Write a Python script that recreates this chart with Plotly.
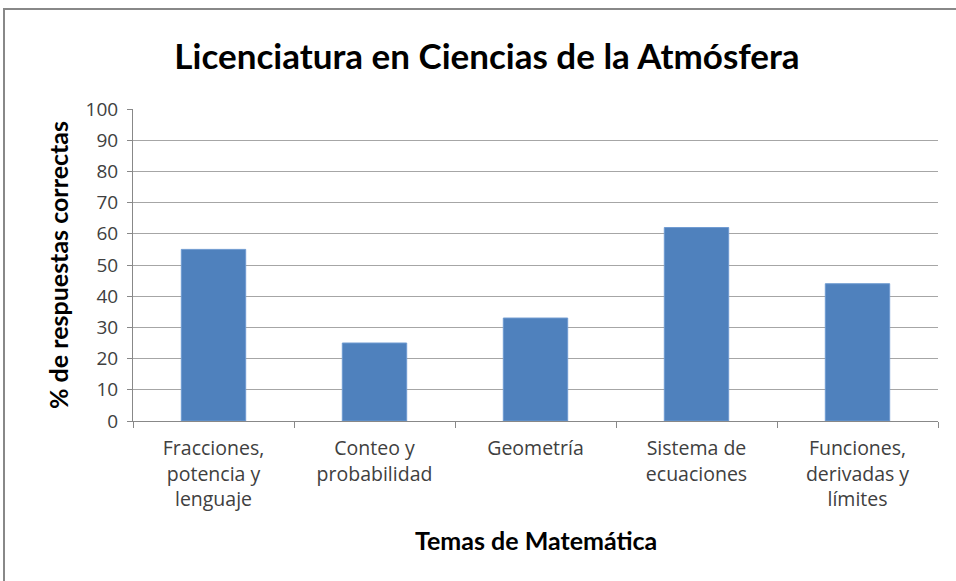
import plotly.graph_objects as go

categories = ["Fracciones,<br>potencia y<br>lenguaje", "Conteo y<br>probabilidad", "Geometría",
              "Sistema de<br>ecuaciones", "Funciones,<br>derivadas y<br>límites"]
values = [55, 25, 33, 62, 44]
title = "Licenciatura en Ciencias de la Atmósfera"
x_title = "Temas de Matemática"
y_title = "% de respuestas correctas"

L, R, T, B = 133, 18, 109, 160
W, H = 956, 581
pw, ph = W - L - R, H - T - B

fig = go.Figure(go.Bar(x=categories, y=values,
                       marker=dict(color="#4F81BD", line=dict(color="#6f9bd1", width=1)), width=0.4))

def px_x(p):
    return (p - L) / pw

def px_y(p):
    return (H - B - p) / ph

bold = dict(family="Lato, Open Sans", color="black", weight="bold")

fig.update_layout(
    width=W, height=H,
    margin=dict(l=L, r=R, t=T, b=B),
    paper_bgcolor="white", plot_bgcolor="white",
    showlegend=False,
    font=dict(family="Open Sans, DejaVu Sans", color="#404040", size=18),
    title=dict(text=title, x=487 / W, xanchor="center", y=1 - 57 / H, yanchor="middle",
               font=dict(size=35, **bold)),
    xaxis=dict(type="category", tickson="boundaries", ticks="outside", ticklen=6, tickcolor="#888",
               showline=True, linecolor="#888", linewidth=1, showgrid=False, ticklabelstandoff=10,
               tickfont=dict(size=19.5, color="#404040")),
    yaxis=dict(range=[0, 100], dtick=10, ticks="outside", ticklen=5, tickcolor="#888",
               showline=True, linecolor="#888", linewidth=1, showgrid=True, gridcolor="#a6a6a6", gridwidth=1,
               ticklabelstandoff=5, tickfont=dict(size=19, color="#404040"), zeroline=False),
    annotations=[
        dict(text=x_title, xref="paper", yref="paper", x=px_x(536), y=px_y(540),
             xanchor="center", yanchor="middle", showarrow=False, font=dict(size=25, **bold)),
        dict(text=y_title, xref="paper", yref="paper", x=px_x(58), y=px_y(265), textangle=-90,
             xanchor="center", yanchor="middle", showarrow=False, font=dict(size=25, **bold)),
    ],
    shapes=[dict(type="rect", xref="paper", yref="paper",
                 x0=px_x(4), x1=px_x(990), y0=px_y(620), y1=px_y(9),
                 line=dict(color="#888", width=2), fillcolor="rgba(0,0,0,0)", layer="below")],
)
fig.write_html("out.html", config={"displayModeBar": False},
               post_script="document.body.style.margin='0';document.body.style.overflow='hidden';")
